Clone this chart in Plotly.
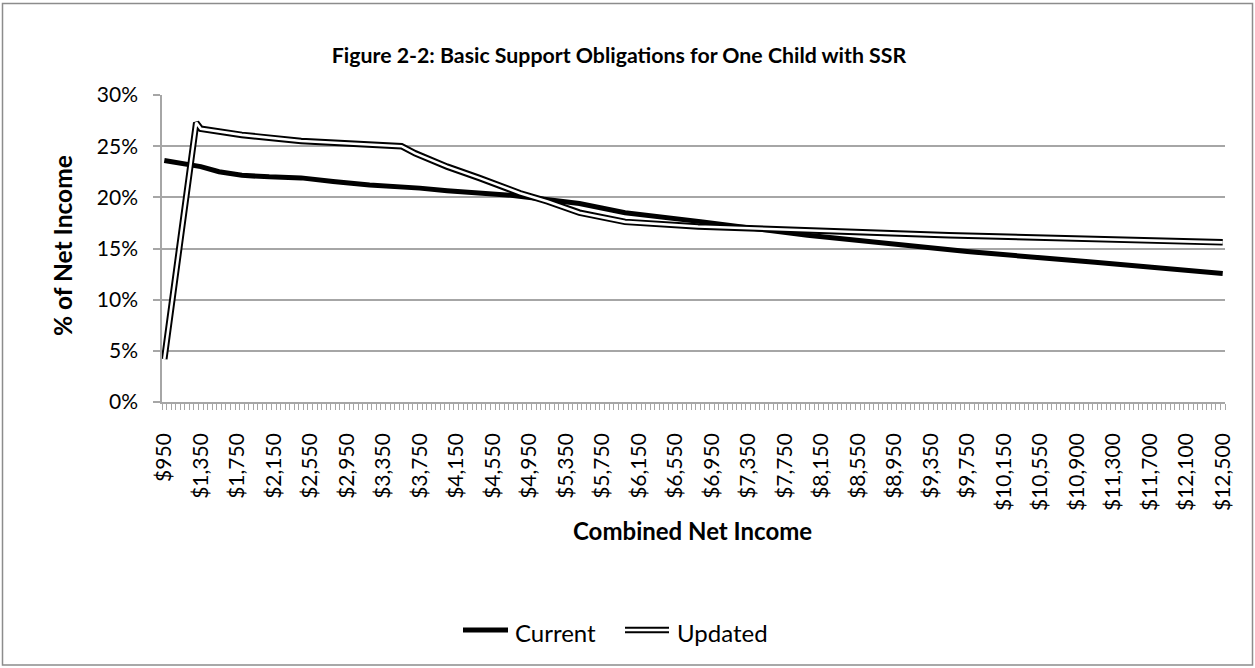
import plotly.graph_objects as go

# Basic support obligation as % of combined net income, one child, with SSR
current_income = [950, 1200, 1350, 1550, 1800, 2100, 2450, 2800, 3200, 3750, 4050,
                  4750, 5150, 5500, 6000, 6300, 6850, 8000, 9750, 11100, 12500]
current_pct = [23.6, 23.3, 23.0, 22.5, 22.15, 22.0, 21.9, 21.55, 21.2, 20.9, 20.65,
               20.2, 19.8, 19.4, 18.5, 18.2, 17.6, 16.3, 14.7, 13.65, 12.55]

updated_income = [950, 1300, 1350, 1800, 2450, 3550, 3700, 4050, 4400, 4850, 5150,
                  5500, 6000, 6800, 9550, 12500]
updated_pct = [4.2, 27.3, 26.7, 26.1, 25.5, 25.0, 24.3, 23.0, 21.9, 20.4, 19.6,
               18.5, 17.6, 17.15, 16.3, 15.6]

# Every eighth row of the income schedule is labelled
tick_labels = ["$950", "$1,350", "$1,750", "$2,150", "$2,550", "$2,950", "$3,350",
               "$3,750", "$4,150", "$4,550", "$4,950", "$5,350", "$5,750", "$6,150",
               "$6,550", "$6,950", "$7,350", "$7,750", "$8,150", "$8,550", "$8,950",
               "$9,350", "$9,750", "$10,150", "$10,550", "$10,900", "$11,300",
               "$11,700", "$12,100", "$12,500"]
N_ROWS = 233
LABEL_STEP = 8


def row_of(income):
    # $50 rows up to $10,550; the schedule then has eight rows up to $10,900,
    # and continues in $50 rows to $12,500
    if income <= 10550:
        return (income - 950) // 50
    return 200 + (income - 10900) // 50


cur_x = [row_of(v) for v in current_income]
upd_x = [row_of(v) for v in updated_income]

FONT = "Lato"
GRID = "#a6a6a6"

# plot area in pixels
L, R, T, B = 162, 1225, 95, 402
W, H = 1255, 668


def px(x):
    return (x - L) / (R - L)


def py(y):
    return (B - y) / (B - T)


fig = go.Figure()
fig.add_trace(go.Scatter(x=cur_x, y=current_pct, mode="lines", name="Current",
                         line=dict(color="black", width=5), showlegend=False))
fig.add_trace(go.Scatter(x=upd_x, y=updated_pct, mode="lines", name="Updated",
                         line=dict(color="black", width=6.5), showlegend=False))
fig.add_trace(go.Scatter(x=upd_x, y=updated_pct, mode="lines", name="Updated",
                         line=dict(color="white", width=2.6), showlegend=False,
                         hoverinfo="skip"))

fig.update_layout(
    width=W, height=H,
    margin=dict(l=L, r=W - R, t=T, b=H - B, autoexpand=False),
    paper_bgcolor="white", plot_bgcolor="white",
    font=dict(family=FONT, color="black", size=21),
    title=dict(text="<b>Figure 2-2: Basic Support Obligations for One Child with SSR</b>",
               x=619 / W, xanchor="center", xref="container",
               y=1 - 56 / H, yanchor="middle", yref="container",
               font=dict(family=FONT, size=21.3, color="black")),
    xaxis=dict(
        range=[-0.5, N_ROWS - 0.5],
        tickmode="array",
        tickvals=list(range(0, N_ROWS, LABEL_STEP)),
        ticktext=tick_labels,
        tickangle=-90,
        ticks="",
        ticklabelstandoff=21,
        showgrid=False, zeroline=False,
        showline=True, linecolor=GRID, linewidth=1.5,
        minor=dict(ticks="outside", tickmode="array",
                   tickvals=[k - 0.5 for k in range(N_ROWS + 1)],
                   ticklen=6, tickcolor=GRID, tickwidth=1, showgrid=False),
        tickfont=dict(size=21),
        fixedrange=True,
    ),
    yaxis=dict(
        range=[0, 30], dtick=5, ticksuffix="%",
        showgrid=True, gridcolor=GRID, gridwidth=1.5,
        zeroline=False, showline=True, linecolor=GRID, linewidth=1.5,
        ticks="outside", ticklen=7, tickcolor=GRID, tickwidth=1.5,
        ticklabelstandoff=11,
        tickfont=dict(size=21),
        fixedrange=True,
    ),
)

annotations = [
    dict(text="<b>% of Net Income</b>", x=px(62), y=py(246), xref="paper", yref="paper",
         textangle=-90, showarrow=False, xanchor="center", yanchor="middle",
         font=dict(size=24.5)),
    dict(text="<b>Combined Net Income</b>", x=px(692), y=py(530), xref="paper",
         yref="paper", showarrow=False, xanchor="center", yanchor="middle",
         font=dict(size=24)),
    dict(text="Current", x=px(513), y=py(632), xref="paper", yref="paper",
         showarrow=False, xanchor="left", yanchor="middle", font=dict(size=24)),
    dict(text="Updated", x=px(675), y=py(632), xref="paper", yref="paper",
         showarrow=False, xanchor="left", yanchor="middle", font=dict(size=24)),
]
fig.update_layout(annotations=annotations)

shapes = [
    # chart frame
    dict(type="rect", xref="paper", yref="paper", x0=px(2.5), x1=px(1252.5),
         y0=py(665), y1=py(3.5), line=dict(color="#8c8c8c", width=1.5)),
    # legend samples
    dict(type="line", xref="paper", yref="paper", x0=px(463), x1=px(508),
         y0=py(630), y1=py(630), line=dict(color="black", width=5)),
    dict(type="line", xref="paper", yref="paper", x0=px(625), x1=px(669),
         y0=py(630), y1=py(630), line=dict(color="black", width=6.5)),
    dict(type="line", xref="paper", yref="paper", x0=px(625), x1=px(669),
         y0=py(630), y1=py(630), line=dict(color="white", width=2.6)),
]
fig.update_layout(shapes=shapes)

fig.write_html("out.html")
